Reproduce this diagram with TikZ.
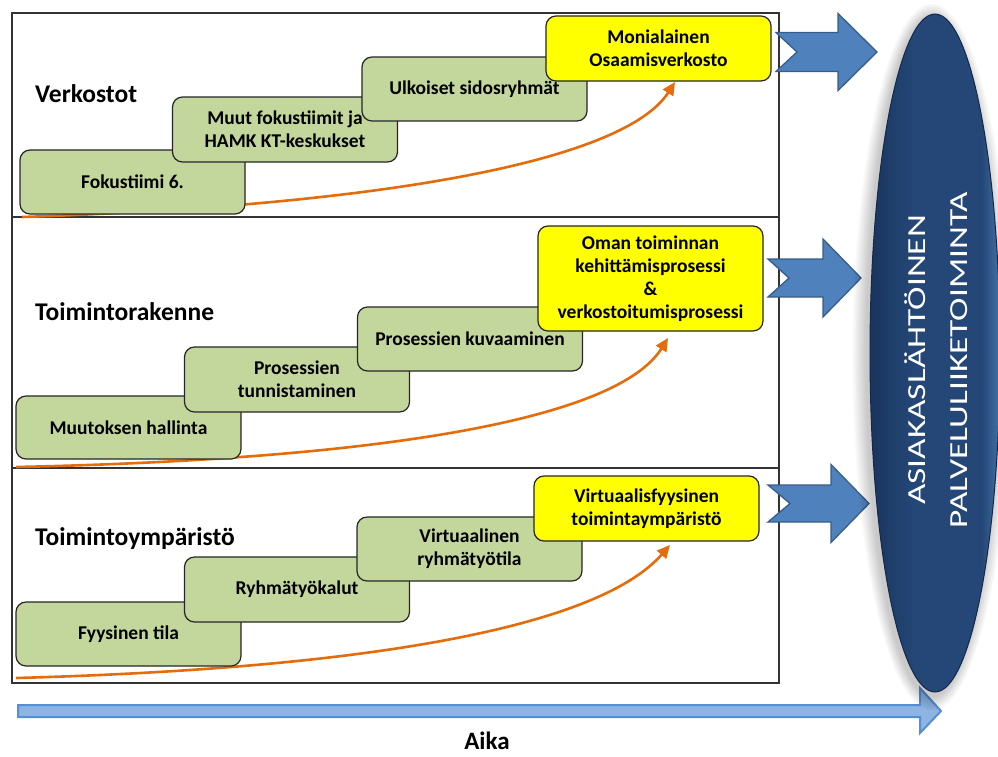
\documentclass[tikz,border=0pt]{standalone}
\usepackage{fontspec}
\setmainfont{Carlito}
\usetikzlibrary{arrows.meta}

\definecolor{stepgreen}{HTML}{C3D69B}
\definecolor{goalyellow}{HTML}{FFFF00}
\definecolor{blockblue}{HTML}{4F81BD}
\definecolor{blockedge}{HTML}{385D8A}
\definecolor{timefill}{HTML}{8EB4E3}
\definecolor{timeedge}{HTML}{558ED5}
\definecolor{curveorange}{HTML}{E46C0A}
\definecolor{ovaldark}{HTML}{1A355E}
\definecolor{ovalmid}{HTML}{244777}
\definecolor{ovallight}{HTML}{3F6B9F}
\definecolor{ovaledge}{HTML}{15284A}

% horizontal gradient of the customer oval: dark left, light rim on the right
\pgfdeclarehorizontalshading{ovalshade}{100bp}{color(0bp)=(ovaldark); color(25bp)=(ovaldark); color(42bp)=(ovalmid); color(68bp)=(ovalmid); color(74bp)=(ovallight); color(100bp)=(ovallight)}

\tikzset{
  stepbox/.style={draw=black!85, line width=1.2pt, rounded corners=10pt,
    fill=stepgreen, minimum width=225pt, minimum height=64pt, align=center,
    inner sep=2pt, font=\fontsize{19.5}{23}\selectfont\bfseries},
  goalbox/.style={stepbox, fill=goalyellow},
  rowlabel/.style={anchor=base west, inner sep=0pt,
    font=\fontsize{25.5}{30}\selectfont\bfseries},
  growth/.style={draw=curveorange, line width=2.6pt,
    -{Triangle[length=13pt,width=12pt]}},
  blockarrow/.style={fill=blockblue, draw=blockedge, line width=1.3pt, line join=miter},
  frameline/.style={draw=black!80, line width=1.5pt},
}

% notched block arrow: #1 tail x, #2 notch x, #3 head x, #4 tip x,
% #5 middle y, #6 half shaft height, #7 half head height
\newcommand{\resultarrow}[7]{%
  \path[blockarrow] (#1,#5-#6) -- (#3,#5-#6) -- (#3,#5-#7) -- (#4,#5)
    -- (#3,#5+#7) -- (#3,#5+#6) -- (#1,#5+#6) -- (#2,#5) -- cycle;}

\begin{document}
\begin{tikzpicture}[x=1pt,y=-1pt]
\useasboundingbox[fill=white] (0,0) rectangle (998,756);

% ---- three bands ----
\draw[frameline] (12,13) rectangle (779,683);
\draw[frameline] (12,217) -- (779,217);
\draw[frameline] (12,468) -- (779,468);

% ---- band 1: Verkostot ----
\node[rowlabel] (lab1) at (35,102) {Verkostot};
\coordinate (g1s) at (22,217);
\coordinate (g1e) at (675,82);
\draw[growth] (g1s) .. controls (390,205) and (625,160) .. (g1e);
\node[stepbox] (v1) at (132.5,182) {Fokustiimi 6.};
\node[stepbox, minimum height=65pt] (v2) at (285,129.5) {Muut fokustiimit ja\\HAMK KT-keskukset};
\node[stepbox] (v3) at (474.5,89) {Ulkoiset sidosryhmät};
\node[goalbox, minimum height=65pt] (v4) at (658.5,48.5) {Monialainen\\Osaamisverkosto};

% ---- band 2: Toimintorakenne ----
\node[rowlabel] (lab2) at (35,320) {Toimintorakenne};
\coordinate (g2s) at (16,467);
\coordinate (g2e) at (668,338);
\draw[growth] (g2s) .. controls (390,459) and (618,418) .. (g2e);
\node[stepbox, minimum height=63pt] (t1) at (128.5,427.5) {Muutoksen hallinta};
\node[stepbox, minimum height=65pt] (t2) at (297,379.5) {Prosessien\\tunnistaminen};
\node[stepbox] (t3) at (470,339) {Prosessien kuvaaminen};
\node[goalbox, minimum height=105pt] (t4) at (650.5,278.5) {Oman toiminnan\\kehittämisprosessi\\\&\\verkostoitumisprosessi};

% ---- band 3: Toimintoympäristö ----
\node[rowlabel] (lab3) at (35,545) {Toimintoympäristö};
\coordinate (g3s) at (16,678);
\coordinate (g3e) at (670,545);
\draw[growth] (g3s) .. controls (380,668) and (600,625) .. (g3e);
\node[stepbox] (y1) at (128.5,634) {Fyysinen tila};
\node[stepbox, minimum height=65pt] (y2) at (297,589.5) {Ryhmätyökalut};
\node[stepbox] (y3) at (469.5,549) {Virtuaalinen\\ryhmätyötila};
\node[goalbox, minimum height=65pt] (y4) at (646.5,508.5) {Virtuaalisfyysinen\\toimintaympäristö};

% ---- result arrows into the oval ----
\resultarrow{776}{797}{838}{877}{52}{19.5}{38.5}
\resultarrow{768}{789}{823}{861}{278}{19}{39}
\resultarrow{768}{790}{831}{869}{503.5}{18.5}{39}

% ---- time axis ----
\path[fill=timefill, draw=timeedge, line width=2pt, line join=miter]
  (18,705) -- (920,705) -- (920,688) -- (941,711) -- (920,733) -- (920,717) -- (18,717) -- cycle;
\node[font=\fontsize{25}{28}\selectfont\bfseries] (aika) at (487,741) {Aika};

% ---- customer oval with soft halo ----
\foreach \r in {1,...,9}{
  \fill[black, opacity=0.022] (932,357) ellipse ({65+1.6*\r} and {339+1.6*\r});
}
\path[shading=ovalshade, draw=ovaledge, line width=1pt] (935,353) ellipse (65 and 339);
\node[rotate=90, text=white, align=center, inner sep=0pt,
      font=\fontsize{26}{42}\selectfont] (oval) at (936,360)
  {\scalebox{1.36}[1]{ASIAKASLÄHTÖINEN}\\\scalebox{1.36}[1]{PALVELULIIKETOIMINTA}};
\end{tikzpicture}
\end{document}
